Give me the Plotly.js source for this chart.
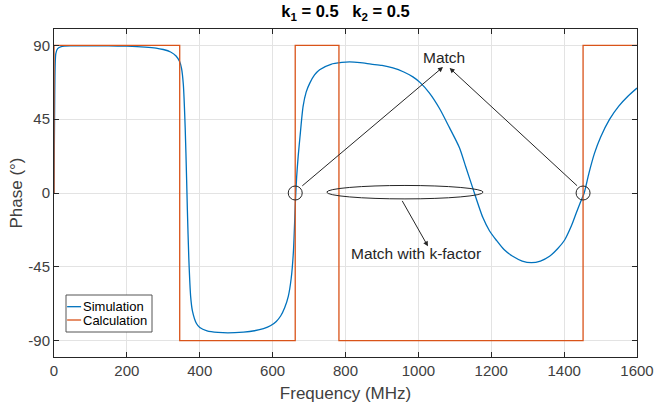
<!DOCTYPE html>
<html>
<head>
<meta charset="utf-8">
<script src="https://cdn.plot.ly/plotly-3.0.1.min.js"></script>
<style>html,body{margin:0;padding:0;background:#fff;}#chart{width:656px;height:412px;}</style>
</head>
<body>
<div id="chart"></div>
<script>
// Simulation (blue) – frequency (MHz) and phase (deg)
const simFreq = [0, 2, 5, 10, 20, 50, 100, 150, 200, 250, 280, 300, 320, 335, 345, 350, 355, 360, 364, 366, 370, 375, 380, 391, 400, 420, 450, 477, 520, 550, 575, 595, 610, 622, 633, 643, 651, 657, 662.7, 666, 670, 675, 683.6, 692, 702, 715, 729, 760, 790, 811, 840, 870, 900, 930, 960, 985, 1005, 1030, 1058, 1085, 1113, 1130, 1150, 1177, 1195, 1214, 1235, 1259, 1285, 1310, 1335, 1360, 1382, 1401, 1420, 1433, 1445, 1455, 1468, 1483, 1500, 1525, 1550, 1575, 1600];
const simPhase = [0, 60, 85, 88, 89.3, 89.7, 89.8, 89.7, 89.5, 89, 88.4, 87.5, 86, 83.5, 80, 76, 66, 40, 8, -10, -40, -63, -72, -79.6, -82, -84, -85, -85.3, -84.8, -84, -82.7, -80.8, -78.3, -75, -70, -63, -52, -36, -4.4, 10, 22, 34, 52.8, 61.5, 67, 72, 75.2, 78.5, 79.6, 79.9, 79.5, 78.6, 77.8, 76.3, 73.8, 70.8, 67.3, 61, 51.5, 40, 27.5, 16, 2.5, -15, -23, -28.8, -34.5, -38.6, -41.5, -42.5, -41.5, -38.6, -34, -28.8, -20, -12.3, -5.5, 0, 12, 24, 34, 45, 53, 59, 64];

// Calculation (orange) – step phase
const calcFreq = [0, 0, 345, 345, 662, 662, 782, 782, 1452, 1452, 1600];
const calcPhase = [0, 90, 90, -90, -90, 90, 90, -90, -90, 90, 90];

const seriesNames = ['Simulation', 'Calculation'];
const seriesColors = ['#0072BD', '#D95319'];

const xTicks = [0, 200, 400, 600, 800, 1000, 1200, 1400, 1600];
const yTicks = [-90, -45, 0, 45, 90];

const FONT = '"Liberation Sans", Arial, Helvetica, sans-serif';
const AX = '#262626';

const traces = [
  {x: simFreq, y: simPhase, type: 'scatter', mode: 'lines', name: seriesNames[0],
   line: {color: seriesColors[0], width: 1.3, shape: 'spline', smoothing: 0.7}},
  {x: calcFreq, y: calcPhase, type: 'scatter', mode: 'lines', name: seriesNames[1],
   line: {color: seriesColors[1], width: 1.3}}
];

const arrowCommon = {xref: 'x', yref: 'y', axref: 'x', ayref: 'y', text: '', showarrow: true,
  arrowhead: 2, arrowsize: 1, arrowwidth: 1, arrowcolor: AX, standoff: 0, startstandoff: 0};

// compact MATLAB-style legend box (paper coordinates)
const legShapes = [
  {type: 'rect', xref: 'paper', yref: 'paper', x0: 0.0206, x1: 0.1681, y0: 0.0762, y1: 0.189,
   fillcolor: '#fff', line: {color: '#555', width: 1}, layer: 'above'},
  {type: 'line', xref: 'paper', yref: 'paper', x0: 0.0225, x1: 0.0465, y0: 0.1534, y1: 0.1534,
   line: {color: seriesColors[0], width: 1.3}, layer: 'above'},
  {type: 'line', xref: 'paper', yref: 'paper', x0: 0.0225, x1: 0.0465, y0: 0.1128, y1: 0.1128,
   line: {color: seriesColors[1], width: 1.3}, layer: 'above'}
];
const legTexts = [
  {xref: 'paper', yref: 'paper', x: 0.047, y: 0.1534, text: seriesNames[0], showarrow: false,
   xanchor: 'left', yanchor: 'middle', font: {family: FONT, size: 13, color: '#000'}},
  {xref: 'paper', yref: 'paper', x: 0.047, y: 0.1128, text: seriesNames[1], showarrow: false,
   xanchor: 'left', yanchor: 'middle', font: {family: FONT, size: 13, color: '#000'}}
];

const layout = {
  width: 656, height: 412,
  margin: {l: 54, r: 19, t: 29, b: 55},
  paper_bgcolor: '#fff', plot_bgcolor: '#fff',
  font: {family: FONT, color: AX, size: 15},
  title: {text: '<b>k<sub>1</sub> = 0.5\u00A0\u00A0\u00A0k<sub>2</sub> = 0.5</b>',
          font: {family: FONT, size: 16.5, color: '#000'},
          xref: 'paper', x: 0.5, xanchor: 'center', yref: 'container', y: 0.972, yanchor: 'middle'},
  xaxis: {range: [0, 1600], tickvals: xTicks, ticktext: xTicks.map(String),
          showgrid: true, gridcolor: '#e3e3e3', gridwidth: 1, zeroline: false,
          showline: true, linecolor: AX, linewidth: 1, mirror: 'ticks',
          ticks: 'inside', ticklen: 5, tickcolor: AX,
          tickfont: {family: FONT, size: 15, color: '#404040'},
          title: {text: 'Frequency (MHz)', font: {family: FONT, size: 17, color: '#404040'}, standoff: 9}},
  yaxis: {range: [-100, 100], tickvals: yTicks, ticktext: yTicks.map(String),
          showgrid: true, gridcolor: '#e3e3e3', gridwidth: 1, zeroline: false,
          showline: true, linecolor: AX, linewidth: 1, mirror: 'ticks',
          ticks: 'inside', ticklen: 5, tickcolor: AX,
          tickfont: {family: FONT, size: 15, color: '#404040'},
          title: {text: 'Phase (°)', font: {family: FONT, size: 17, color: '#404040'}, standoff: 1}},
  showlegend: false,
  shapes: [
    {type: 'circle', xref: 'x', yref: 'y', xsizemode: 'pixel', ysizemode: 'pixel',
     xanchor: 662, yanchor: 0, x0: -7, x1: 7, y0: -7, y1: 7, line: {color: AX, width: 1}},
    {type: 'circle', xref: 'x', yref: 'y', xsizemode: 'pixel', ysizemode: 'pixel',
     xanchor: 1452, yanchor: 0, x0: -7, x1: 7, y0: -7, y1: 7, line: {color: AX, width: 1}},
    {type: 'circle', xref: 'x', yref: 'y', x0: 748.6, x1: 1177.7, y0: -3.6, y1: 4.6,
     line: {color: AX, width: 1}}
  ].concat(legShapes),
  annotations: [
    Object.assign({}, arrowCommon, {x: 1067.5, y: 76.8, ax: 677.3, ay: 3.6}),
    Object.assign({}, arrowCommon, {x: 1085.8, y: 76.2, ax: 1439.6, ay: 3.6}),
    Object.assign({}, arrowCommon, {x: 1026.3, y: -32.5, ax: 953.4, ay: -3.9}),
    {xref: 'x', yref: 'y', x: 1070, y: 82.9, text: 'Match', showarrow: false,
     font: {family: FONT, size: 15.5, color: AX}, xanchor: 'center', yanchor: 'middle'},
    {xref: 'x', yref: 'y', x: 992.6, y: -37, text: 'Match with k-factor', showarrow: false,
     font: {family: FONT, size: 15.5, color: AX}, xanchor: 'center', yanchor: 'middle'}
  ].concat(legTexts)
};

Plotly.newPlot('chart', traces, layout, {displayModeBar: false, staticPlot: true});
</script>
</body>
</html>
